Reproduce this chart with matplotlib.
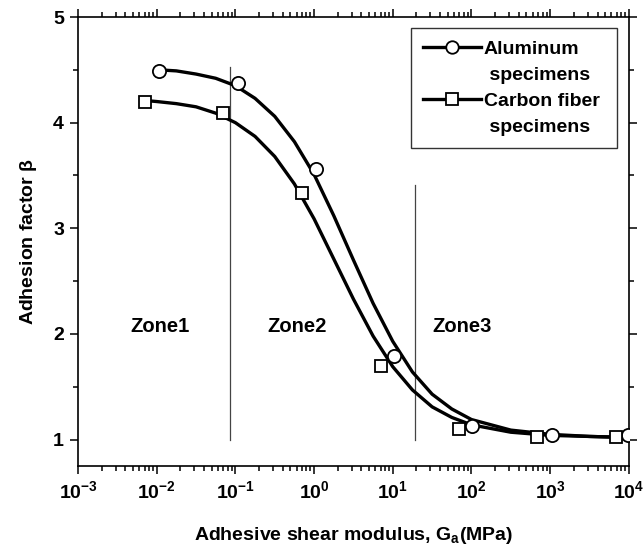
import matplotlib
matplotlib.use('Agg')
import matplotlib.pyplot as plt
from matplotlib.lines import Line2D
from matplotlib.ticker import FixedLocator, LogFormatterSciNotation, MultipleLocator, NullFormatter
import numpy as np

plt.rcParams['font.family'] = ['Liberation Sans', 'DejaVu Sans']
plt.rcParams['font.weight'] = 'bold'
plt.rcParams['mathtext.fontset'] = 'custom'
plt.rcParams['mathtext.rm'] = 'Liberation Sans:bold'
plt.rcParams['mathtext.it'] = 'Liberation Sans:bold'
plt.rcParams['mathtext.bf'] = 'Liberation Sans:bold'
plt.rcParams['mathtext.sf'] = 'Liberation Sans'
plt.rcParams['mathtext.default'] = 'regular'

# measured points (G_a in MPa, adhesion factor)
al_x = [0.0107, 0.107, 1.05, 10.4, 103, 1040, 9700]
al_y = [4.49, 4.38, 3.56, 1.79, 1.13, 1.04, 1.04]
cf_x = [0.0071, 0.069, 0.70, 7.0, 70, 686, 6850]
cf_y = [4.20, 4.09, 3.33, 1.70, 1.10, 1.02, 1.02]

# fitted curves (log10 of G_a, adhesion factor)
al_fit_logx = [-1.97, -1.75, -1.5, -1.25, -1.0, -0.75, -0.5, -0.25, 0.0, 0.25, 0.5,
               0.75, 1.0, 1.25, 1.5, 1.75, 2.0, 2.5, 3.0, 3.5, 4.0]
al_fit_y = [4.50, 4.49, 4.46, 4.42, 4.35, 4.23, 4.06, 3.82, 3.51, 3.12, 2.70,
            2.29, 1.93, 1.64, 1.43, 1.29, 1.19, 1.09, 1.05, 1.03, 1.02]
cf_fit_logx = [-2.15, -2.0, -1.75, -1.5, -1.25, -1.0, -0.75, -0.5, -0.25, 0.0, 0.25,
               0.5, 0.75, 1.0, 1.25, 1.5, 1.75, 2.0, 2.5, 3.0, 3.5, 4.0]
cf_fit_y = [4.21, 4.20, 4.18, 4.15, 4.09, 4.00, 3.87, 3.68, 3.42, 3.09, 2.71,
            2.33, 1.98, 1.69, 1.47, 1.31, 1.21, 1.14, 1.07, 1.04, 1.03, 1.02]

# zone boundaries (x position, top of line)
zone_x = [0.085, 19]
zone_top = [4.53, 3.41]
zone_labels = ['Zone1', 'Zone2', 'Zone3']
zone_label_x = [0.011, 0.6, 75]
zone_label_y = 2.07

x_decades = [-3, -2, -1, 0, 1, 2, 3, 4]
legend_rows = ['Aluminum', ' specimens', 'Carbon fiber ', ' specimens']

fig = plt.figure(figsize=(6.43, 5.54), dpi=100)
ax = fig.add_axes([0.1213, 0.1588, 0.8567, 0.8105])

for zx, zt in zip(zone_x, zone_top):
    ax.plot([zx, zx], [1.0, zt], color='#444444', lw=0.9, zorder=1)

for lab, lx in zip(zone_labels, zone_label_x):
    ax.text(lx, zone_label_y, lab, ha='center', va='center', fontsize=14.5, fontweight='bold')

ax.plot(10 ** np.array(al_fit_logx), al_fit_y, color='black', lw=2.4, zorder=2)
ax.plot(10 ** np.array(cf_fit_logx), cf_fit_y, color='black', lw=2.4, zorder=2)
ax.plot(al_x, al_y, 'o', ms=9.5, mfc='white', mec='black', mew=1.3, zorder=3)
ax.plot(cf_x, cf_y, 's', ms=8.5, mfc='white', mec='black', mew=1.3, zorder=3)

# legend: handle sits on the first line of each label, so use blank rows for the second lines
h1 = Line2D([], [], ls='-', marker='o', color='black', lw=2.4, ms=9, mfc='white', mec='black', mew=1.3)
h2 = Line2D([], [], ls='-', marker='s', color='black', lw=2.4, ms=8, mfc='white', mec='black', mew=1.3)
blank = Line2D([], [], ls='none')
leg = ax.legend([h1, blank, h2, blank], legend_rows,
                loc='upper right', bbox_to_anchor=(0.978, 0.975), fancybox=False,
                edgecolor='#333333', framealpha=1, prop={'size': 14, 'weight': 'bold'},
                handlelength=3.0, handletextpad=0.15, borderpad=0.6, labelspacing=0.44,
                borderaxespad=0)
leg.get_frame().set_linewidth(1.0)

ax.set_xscale('log')
ax.set_xlim(1e-3, 1e4)
ax.set_ylim(0.75, 5)
major = [10.0 ** d for d in x_decades]
minor = [m * 10.0 ** d for d in x_decades[:-1] for m in range(2, 10)]
ax.xaxis.set_major_locator(FixedLocator(major))
ax.xaxis.set_major_formatter(LogFormatterSciNotation())
ax.xaxis.set_minor_locator(FixedLocator(minor))
ax.xaxis.set_minor_formatter(NullFormatter())
ax.yaxis.set_major_locator(MultipleLocator(1))
ax.yaxis.set_minor_locator(MultipleLocator(0.5))

ax.tick_params(which='both', direction='out', top=True, right=True, width=1.1)
ax.tick_params(which='major', length=6, labelsize=14, pad=4)
ax.tick_params(which='minor', length=3.5)
for lbl in ax.get_yticklabels():
    lbl.set_fontweight('bold')
for s in ax.spines.values():
    s.set_linewidth(1.2)

ax.set_xlabel('Adhesive shear modulus, G$_\\mathregular{a}$(MPa)', fontsize=14,
              fontweight='bold', labelpad=17)
ax.set_ylabel('Adhesion factor $\\mathsf{\\beta}$', fontsize=14, fontweight='bold', labelpad=10)

fig.savefig('out.png', dpi=100)
